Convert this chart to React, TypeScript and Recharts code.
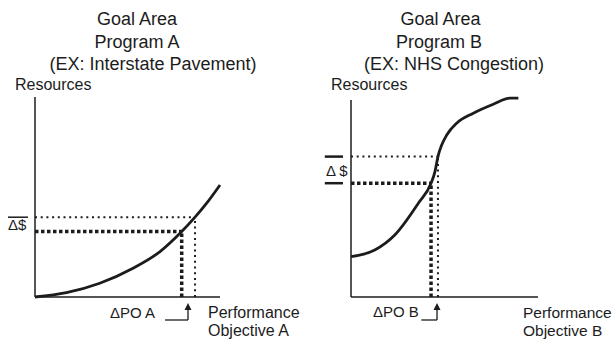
import { LineChart, Line, XAxis, YAxis, ReferenceLine, ReferenceDot } from "recharts";

// Program A cost curve (performance -> resources), 0..100 units on both axes
const curveAx = [0, 17, 35, 53, 67.6, 79.3, 86.5, 92.8, 100];
const curveAy = [0, 2.2, 6.9, 14.4, 22.7, 32.7, 39.9, 46.9, 56];
// Program B cost curve
const curveBx = [0, 12.7, 23.4, 36, 42.8, 44.9, 46.5, 48.5, 51.2, 56.5, 65.4, 76.1, 85, 89.5];
const curveBy = [20.2, 23.5, 31, 46.9, 56.9, 62.7, 70.2, 76, 81, 86.9, 91.9, 96.4, 99.4, 99.4];

// operating points: [current, after extra $]
const opAx = [79.3, 86.5];
const opAy = [32.7, 39.9];
const opBx = [42.8, 46.5];
const opBy = [56.9, 70.2];

// arrow under the x axis: [start x, end x]
const arrowA = [70.3, 82.7];
const arrowB = [37.6, 46];

const INK = "#1c1c1c";
const FONT = '"Liberation Sans", Arial, sans-serif';

const toRows = (xs: number[], ys: number[]) => xs.map((x, i) => ({ x, y: ys[i] }));

type TextItem = { t: string; x: number; y: number; size: number; anchor?: "start" | "middle" };

interface PanelProps {
  left: number;
  data: { x: number; y: number }[];
  opX: number[];
  opY: number[];
  arrow: number[];
  bracketX: number[];
  bracketBoth: boolean;
  axisTop: number;
  margin: { top: number; right: number; bottom: number; left: number };
  texts: TextItem[];
}

const arrowHead = (p: any) => (
  <path d={`M${p.cx},${p.cy - 4} L${p.cx - 3.5},${p.cy + 3} L${p.cx + 3.5},${p.cy + 3} Z`} fill={INK} />
);

function Panel({ left, data, opX, opY, arrow, bracketX, bracketBoth, axisTop, margin, texts }: PanelProps) {
  return (
    <div style={{ position: "absolute", left, top: 0 }}>
      <LineChart width={308} height={344} data={data} margin={margin}>
        <XAxis dataKey="x" type="number" domain={[0, 100]} hide />
        <YAxis type="number" domain={[0, 100]} hide />

        {/* axes */}
        <ReferenceLine segment={[{ x: 0, y: 0 }, { x: 100, y: 0 }]} stroke={INK} strokeWidth={1.5} />
        <ReferenceLine segment={[{ x: 0, y: 0 }, { x: 0, y: axisTop }]} stroke={INK} strokeWidth={1.5} />

        {/* current level: heavy dashes */}
        <ReferenceLine segment={[{ x: 0, y: opY[0] }, { x: opX[0], y: opY[0] }]} stroke={INK} strokeWidth={3.5} strokeDasharray="3.5 2.5" />
        <ReferenceLine segment={[{ x: opX[0], y: 0 }, { x: opX[0], y: opY[0] }]} stroke={INK} strokeWidth={3.5} strokeDasharray="3.5 2.5" />
        {/* new level: dots */}
        <ReferenceLine segment={[{ x: 0, y: opY[1] }, { x: opX[1], y: opY[1] }]} stroke={INK} strokeWidth={2} strokeDasharray="2 3.7" />
        <ReferenceLine segment={[{ x: opX[1], y: 0 }, { x: opX[1], y: opY[1] }]} stroke={INK} strokeWidth={2} strokeDasharray="2 3.7" />

        {/* delta $ bracket left of axis */}
        <ReferenceLine ifOverflow="visible" segment={[{ x: bracketX[0], y: opY[1] }, { x: bracketX[1], y: opY[1] }]} stroke={INK} strokeWidth={bracketBoth ? 2.5 : 1.5} />
        {bracketBoth && (
          <ReferenceLine ifOverflow="visible" segment={[{ x: bracketX[0], y: opY[0] }, { x: bracketX[1], y: opY[0] }]} stroke={INK} strokeWidth={2.5} />
        )}

        {/* delta PO arrow below axis */}
        <ReferenceLine ifOverflow="visible" segment={[{ x: arrow[0], y: -11.5 }, { x: arrow[1], y: -11.5 }]} stroke={INK} strokeWidth={1.3} />
        <ReferenceLine ifOverflow="visible" segment={[{ x: arrow[1], y: -11.5 }, { x: arrow[1], y: -6 }]} stroke={INK} strokeWidth={1.3} />
        <ReferenceDot ifOverflow="visible" x={arrow[1]} y={-5} r={3} shape={arrowHead} />

        <Line dataKey="y" type="monotone" stroke={INK} strokeWidth={2.8} dot={false} isAnimationActive={false} />

        {texts.map((s, i) => (
          <text key={i} x={s.x} y={s.y} fontSize={s.size} textAnchor={s.anchor ?? "start"} fill={INK} fontFamily={FONT}>
            {s.t}
          </text>
        ))}
      </LineChart>
    </div>
  );
}

const textsA: TextItem[] = [
  { t: "Goal Area", x: 137, y: 25, size: 18, anchor: "middle" },
  { t: "Program A", x: 137, y: 48, size: 18, anchor: "middle" },
  { t: "(EX: Interstate Pavement)", x: 153, y: 70, size: 18, anchor: "middle" },
  { t: "Resources", x: 15, y: 90, size: 16 },
  { t: "ΔPO A", x: 110, y: 318, size: 15 },
  { t: "Performance", x: 208, y: 318, size: 16 },
  { t: "Objective A", x: 208, y: 336, size: 16 },
  { t: "Δ$", x: 8, y: 230, size: 15 },
];

const textsB: TextItem[] = [
  { t: "Goal Area", x: 132.5, y: 25, size: 18, anchor: "middle" },
  { t: "Program B", x: 131, y: 48, size: 18, anchor: "middle" },
  { t: "(EX: NHS Congestion)", x: 146, y: 70, size: 18, anchor: "middle" },
  { t: "Resources", x: 23, y: 90, size: 16 },
  { t: "ΔPO B", x: 65, y: 317, size: 15 },
  { t: "Performance", x: 215, y: 318, size: 15.5 },
  { t: "Objective B", x: 215, y: 336, size: 15.5 },
  { t: "Δ $", x: 18, y: 176, size: 15 },
];

export default function App() {
  return (
    <div style={{ position: "absolute", left: 0, top: 0, width: 616, height: 344, background: "#fff", overflow: "hidden", fontFamily: FONT }}>
      <Panel
        left={0}
        data={toRows(curveAx, curveAy)}
        opX={opAx}
        opY={opAy}
        arrow={arrowA}
        bracketX={[-14.6, -3.8]}
        bracketBoth={false}
        axisTop={100}
        margin={{ top: 97, right: 88, bottom: 47, left: 35 }}
        texts={textsA}
      />
      <Panel
        left={308}
        data={toRows(curveBx, curveBy)}
        opX={opBx}
        opY={opBy}
        arrow={arrowB}
        bracketX={[-14, -4.3]}
        bracketBoth={true}
        axisTop={98.5}
        margin={{ top: 97, right: 78, bottom: 47, left: 43 }}
        texts={textsB}
      />
    </div>
  );
}
